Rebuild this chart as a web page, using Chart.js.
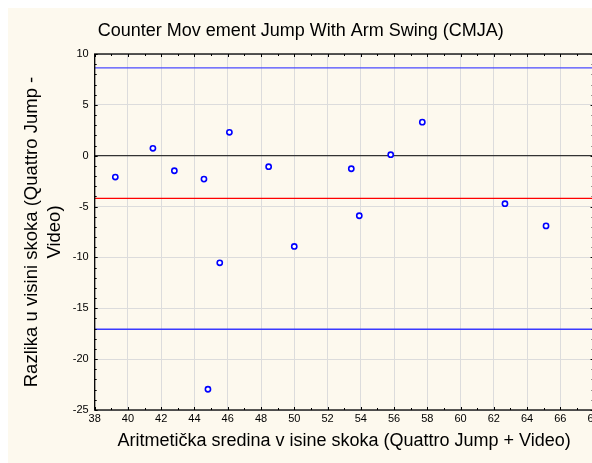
<!DOCTYPE html>
<html>
<head>
<meta charset="utf-8">
<script src="https://cdn.jsdelivr.net/npm/chart.js@4.4.1/dist/chart.umd.min.js"></script>
<style>
  html, body { margin: 0; padding: 0; background: #ffffff; overflow: hidden; }
  #wrap { position: absolute; left: 8px; top: 8px; width: 600px; height: 455px; background: #fdf9ee; }
</style>
</head>
<body>
<div id="wrap"><canvas id="graf" width="600" height="455"></canvas></div>
<script>
// Bland-Altman: aritmeticka sredina vs razlika
const srednjaVrijednost = [39.24, 41.5, 42.79, 44.57, 44.81, 45.52, 46.1, 48.46, 50.0, 53.43, 53.91, 55.8, 57.7, 62.67, 65.14];
const razlika = [-2.1, 0.73, -1.48, -2.3, -22.96, -10.53, 2.3, -1.08, -8.92, -1.28, -5.9, 0.1, 3.3, -4.72, -6.9];

const gornjaGranica = 8.63;
const prosjekRazlike = -4.19;
const donjaGranica = -17.06;
const nulaLinija = 0;

const xRaspon = [38, 68];
const yRaspon = [-25, 10];

const naslov = 'Counter Mov ement Jump With Arm Swing (CMJA)';
const xNaslov = 'Aritmetička sredina v isine skoka (Quattro Jump + Video)';
const yNaslov = ['Razlika u visini skoka (Quattro Jump -', 'Video)'];

const FONT = '"Liberation Sans", Arial, sans-serif';

function horizontala(v) {
  return xRaspon.map(x => ({ x: x, y: v }));
}

// okvir i kratke crtice prema unutra
const okvirPlugin = {
  id: 'okvir',
  afterDraw(chart) {
    const { ctx, chartArea: a, scales } = chart;
    const xs = scales.x, ys = scales.y;
    ctx.save();
    ctx.strokeStyle = '#000';
    ctx.lineWidth = 1.3;
    ctx.strokeRect(a.left, a.top, a.right - a.left, a.bottom - a.top);
    ctx.lineWidth = 1;
    ctx.beginPath();
    for (let v = xRaspon[0]; v <= xRaspon[1]; v++) {
      const px = Math.round(xs.getPixelForValue(v)) + 0.5;
      const d = v % 2 === 0 ? 3 : 2;
      ctx.moveTo(px, a.bottom); ctx.lineTo(px, a.bottom - d);
      ctx.moveTo(px, a.top); ctx.lineTo(px, a.top + d);
    }
    for (let v = yRaspon[0]; v <= yRaspon[1]; v++) {
      const py = Math.round(ys.getPixelForValue(v)) + 0.5;
      const d = v % 5 === 0 ? 3 : 2;
      ctx.moveTo(a.left, py); ctx.lineTo(a.left + d, py);
      ctx.moveTo(a.right, py); ctx.lineTo(a.right - d, py);
    }
    ctx.stroke();
    ctx.restore();
  }
};

const ctx = document.getElementById('graf').getContext('2d');
new Chart(ctx, {
  type: 'scatter',
  data: {
    datasets: [
      {
        label: 'razlika',
        data: srednjaVrijednost.map((x, i) => ({ x: x, y: razlika[i] })),
        pointRadius: 2.6,
        pointBorderWidth: 1.6,
        pointBorderColor: '#0000ff',
        pointBackgroundColor: '#ffffff',
        order: 0
      },
      { type: 'line', data: horizontala(gornjaGranica), borderColor: '#4a4aff', borderWidth: 1.3, pointRadius: 0, order: 1 },
      { type: 'line', data: horizontala(prosjekRazlike), borderColor: '#ff0000', borderWidth: 1.3, pointRadius: 0, order: 1 },
      { type: 'line', data: horizontala(donjaGranica), borderColor: '#3a3aff', borderWidth: 1.3, pointRadius: 0, order: 1 },
      { type: 'line', data: horizontala(nulaLinija), borderColor: '#333333', borderWidth: 1.3, pointRadius: 0, order: 1 }
    ]
  },
  options: {
    responsive: false,
    animation: false,
    devicePixelRatio: 1,
    layout: { padding: { left: 0, right: 14.4, top: 0, bottom: 0 } },
    plugins: {
      legend: { display: false },
      tooltip: { enabled: false },
      title: {
        display: true,
        text: naslov,
        color: '#000',
        font: { family: FONT, size: 18, weight: 'normal', lineHeight: 1.2 },
        padding: { top: 12.2, bottom: 12.2 }
      }
    },
    scales: {
      x: {
        type: 'linear',
        min: xRaspon[0],
        max: xRaspon[1],
        afterFit(s) { s.height = 53; },
        ticks: { stepSize: 2, color: '#000', font: { family: FONT, size: 11 }, padding: 2, maxRotation: 0, autoSkip: false },
        grid: { color: '#dcdcdc', lineWidth: 1, drawTicks: false },
        border: { display: false },
        title: {
          display: true,
          text: xNaslov,
          color: '#000',
          font: { family: FONT, size: 18, lineHeight: 1.28 },
          padding: { top: 0, bottom: 10.5 }
        }
      },
      y: {
        type: 'linear',
        min: yRaspon[0],
        max: yRaspon[1],
        afterFit(s) { s.width = 86.7; },
        ticks: { stepSize: 5, color: '#000', font: { family: FONT, size: 11 }, padding: 6 },
        grid: { color: '#dcdcdc', lineWidth: 1, drawTicks: false },
        border: { display: false },
        title: {
          display: true,
          text: yNaslov,
          color: '#000',
          font: { family: FONT, size: 18.5, lineHeight: 1.25 },
          padding: { top: 12.5, bottom: 0 }
        }
      }
    }
  },
  plugins: [okvirPlugin]
});
</script>
</body>
</html>
